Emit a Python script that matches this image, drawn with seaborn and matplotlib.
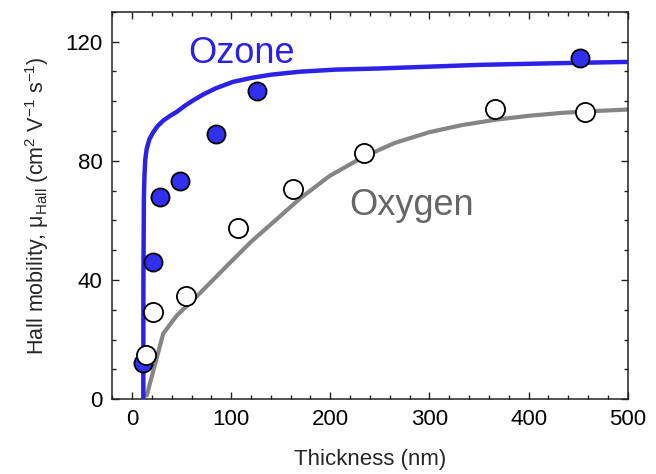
import numpy as np
import pandas as pd
import matplotlib
matplotlib.use("Agg")
import matplotlib.pyplot as plt
from matplotlib.ticker import MultipleLocator
import seaborn as sns

# measured points
ozone_thickness = [11.4, 20.8, 28.2, 48.3, 85.2, 125.6, 451.7]
ozone_mobility = [12.1, 46.0, 68.0, 73.2, 89.0, 103.4, 114.4]

oxygen_thickness = [14.1, 21.4, 54.3, 107.0, 162.3, 233.7, 365.9, 456.7]
oxygen_mobility = [14.7, 29.3, 34.6, 57.5, 70.4, 82.5, 97.5, 96.4]

# fitted curves
ozone_fit_x = [11.4, 11.5, 12.0, 12.6, 13.4, 14.8, 17.5, 21.4, 26.0, 31.5, 38.0, 45.0,
               53.0, 61.7, 72.0, 85.0, 101.9, 120.0, 140.0, 169.0, 205.0, 249.5,
               300.0, 350.0, 420.0, 500.0]
ozone_fit_y = [0.5, 40.0, 68.0, 75.5, 80.5, 84.0, 87.2, 89.6, 91.7, 93.5, 95.0, 96.4,
               98.4, 100.3, 102.3, 104.4, 106.5, 107.8, 108.9, 109.9, 110.6, 111.0,
               111.6, 112.2, 112.7, 113.2]

oxygen_fit_x = [14.8, 31.5, 45.0, 65.0, 98.6, 120.0, 145.6, 170.0, 199.2, 232.7, 265.0,
                299.8, 333.0, 366.9, 400.0, 433.9, 466.0, 500.0]
oxygen_fit_y = [1.2, 22.0, 28.0, 34.4, 45.7, 52.8, 60.3, 67.5, 74.9, 81.2, 86.0,
                89.6, 92.0, 93.8, 95.1, 96.1, 96.7, 97.2]

sns.set_theme(style="ticks")
plt.rcParams['font.family'] = ['Liberation Sans', 'DejaVu Sans']
plt.rcParams['mathtext.fontset'] = 'custom'
plt.rcParams['mathtext.rm'] = 'Liberation Sans'
plt.rcParams['mathtext.it'] = 'Liberation Sans:italic'

blue = '#2b22e6'
gray = '#858585'

fig = plt.figure(figsize=(6.56, 4.74), dpi=100)
ax = fig.add_axes([0.171, 0.158, 0.786, 0.817])

oz_fit = pd.DataFrame({'x': ozone_fit_x, 'y': ozone_fit_y})
ox_fit = pd.DataFrame({'x': oxygen_fit_x, 'y': oxygen_fit_y})
sns.lineplot(data=ox_fit, x='x', y='y', color=gray, lw=3.0, sort=False,
             estimator=None, ax=ax, zorder=2)
sns.lineplot(data=oz_fit, x='x', y='y', color=blue, lw=3.2, sort=False,
             estimator=None, ax=ax, zorder=3)

sns.scatterplot(x=ozone_thickness, y=ozone_mobility, color='#3030ee', s=170,
                edgecolor='black', linewidth=1.3, ax=ax, zorder=4)
sns.scatterplot(x=oxygen_thickness, y=oxygen_mobility, color='white', s=190,
                edgecolor='black', linewidth=1.3, ax=ax, zorder=5)

ax.text(57, 112.7, 'Ozone', color='#2a22e0', fontsize=26, ha='left', va='baseline')
ax.text(219, 61.7, 'Oxygen', color='#666666', fontsize=26, ha='left', va='baseline')

ax.set_xlim(-20, 500)
ax.set_ylim(0, 130)
ax.xaxis.set_major_locator(MultipleLocator(100))
ax.xaxis.set_minor_locator(MultipleLocator(20))
ax.yaxis.set_major_locator(MultipleLocator(40))
ax.yaxis.set_minor_locator(MultipleLocator(10))
ax.tick_params(which='both', direction='in', top=True, right=True, colors='#222222',
               labelsize=16, labelcolor='black')
ax.tick_params(which='major', length=5, width=1.0, pad=7)
ax.tick_params(which='minor', length=3, width=1.0)
for sp in ax.spines.values():
    sp.set_linewidth(1.1)
    sp.set_color('#222222')

ax.set_xlabel('Thickness (nm)', fontsize=16, labelpad=14)
ax.set_ylabel('Hall mobility, μ$_{\\rm Hall}$ (cm$^2$ V$^{-1}$ s$^{-1}$)', fontsize=15.5, labelpad=10)

fig.savefig('out.png', dpi=100)
